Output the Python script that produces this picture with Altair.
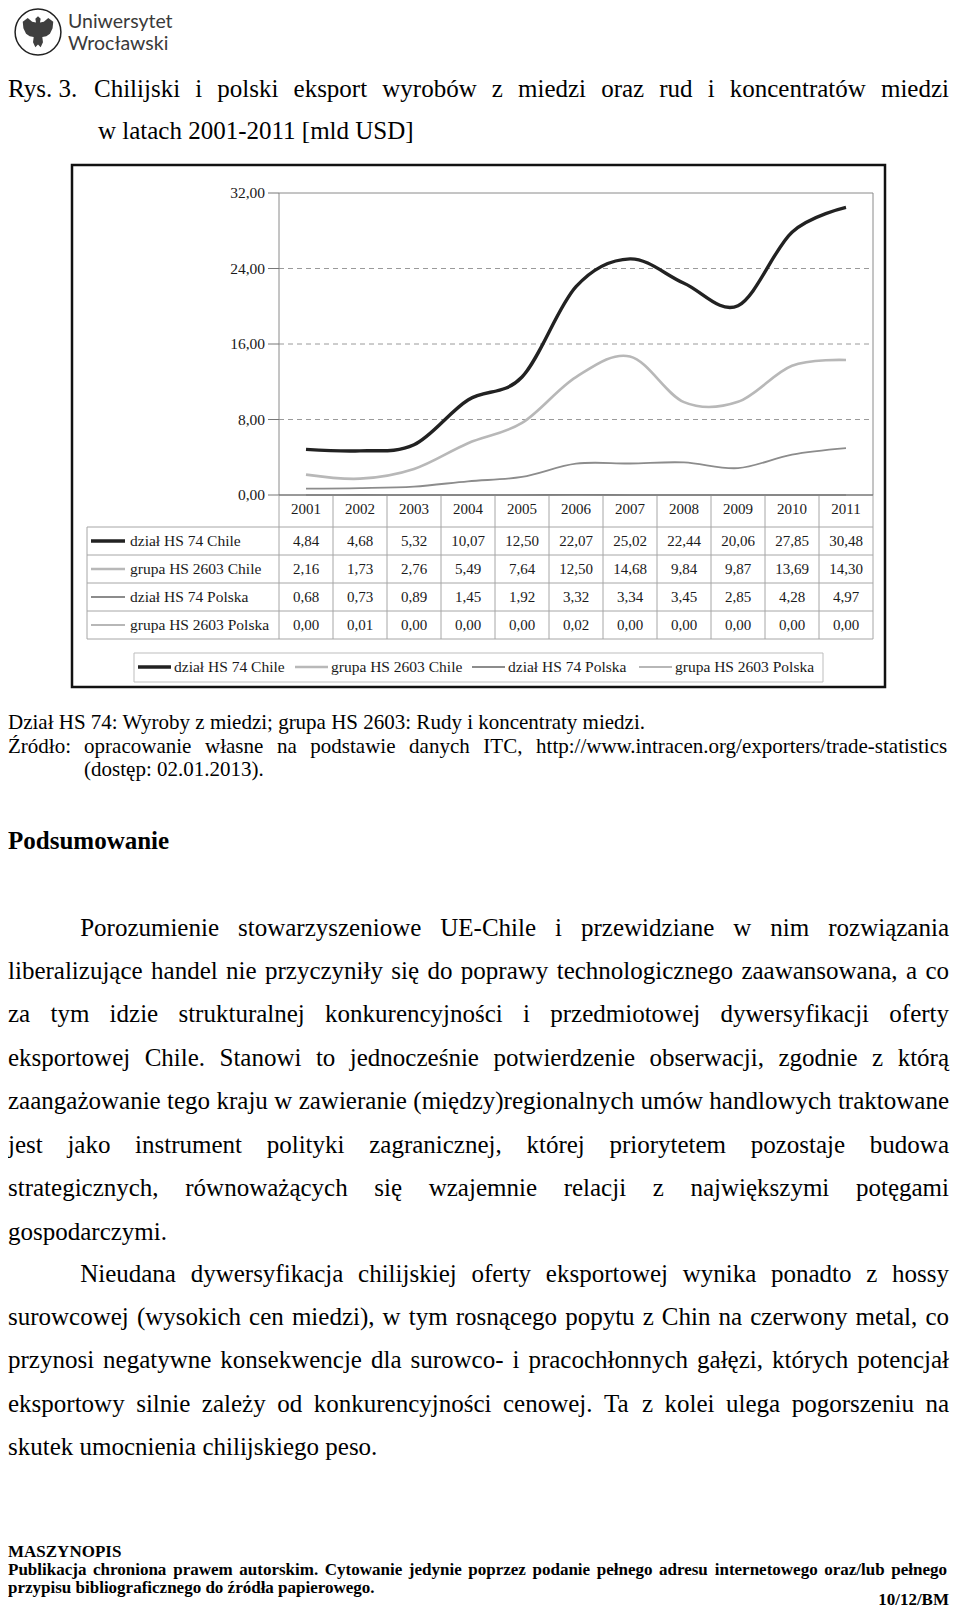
import altair as alt
import pandas as pd

# ---------------- data ----------------
years = [2001, 2002, 2003, 2004, 2005, 2006, 2007, 2008, 2009, 2010, 2011]
series_names = ["dział HS 74 Chile", "grupa HS 2603 Chile", "dział HS 74 Polska", "grupa HS 2603 Polska"]
hs74_chile = [4.84, 4.68, 5.32, 10.07, 12.50, 22.07, 25.02, 22.44, 20.06, 27.85, 30.48]
hs2603_chile = [2.16, 1.73, 2.76, 5.49, 7.64, 12.50, 14.68, 9.84, 9.87, 13.69, 14.30]
hs74_polska = [0.68, 0.73, 0.89, 1.45, 1.92, 3.32, 3.34, 3.45, 2.85, 4.28, 4.97]
hs2603_polska = [0.00, 0.01, 0.00, 0.00, 0.00, 0.02, 0.00, 0.00, 0.00, 0.00, 0.00]
y_ticks = [0, 8, 16, 24, 32]
y_tick_labels = ["0,00", "8,00", "16,00", "24,00", "32,00"]

series_values = [hs74_chile, hs2603_chile, hs74_polska, hs2603_polska]
rows = []
for name, vals in zip(series_names, series_values):
    for yr, v in zip(years, vals):
        rows.append({"series": name, "year": yr, "value": v,
                     "label": f"{v:.2f}".replace(".", ",")})
df = pd.DataFrame(rows)
df_years = pd.DataFrame({"year": years, "ylabel": [str(y) for y in years]})
df_ticks = pd.DataFrame({"v": y_ticks, "lab": y_tick_labels})
df_grid = df_ticks[(df_ticks.v > 0) & (df_ticks.v < 32)]
df_zero = df_ticks[df_ticks.v == 0]
df_bounds = pd.DataFrame({"b": [y - 0.5 for y in years] + [years[-1] + 0.5]})
df_series = pd.DataFrame({"series": series_names})
df_last = df_series.tail(1)
one = pd.DataFrame([{"a": 0}])

# layout (chart coordinates = page - 8)
legend_text_x = [166, 323, 500, 667]
df_leg = pd.DataFrame({"series": series_names, "lx": legend_text_x,
                       "kx": [x - 36 for x in legend_text_x],
                       "kx2": [x - 3 for x in legend_text_x]})

SERIF = "Liberation Serif"
TXT = "#1a1a1a"

xs = alt.Scale(domain=[2000.5, 2011.5], range=[271, 865], nice=False, zero=False)
ys = alt.Scale(domain=[0, 32], range=[487, 185], nice=False, zero=False)
rs = alt.Scale(type="point", domain=series_names, range=[533, 617], padding=0)
color_s = alt.Scale(domain=series_names, range=["#222222", "#b8b8b8", "#8c8c8c", "#707070"])
width_s = alt.Scale(domain=series_names, range=[3.4, 1.1, 3.4, 1.1])

layers = []

# outer frame
layers.append(alt.Chart(one).mark_rect(fill="white", stroke="#111", strokeWidth=2.5).encode(
    x=alt.value(64), x2=alt.value(877), y=alt.value(157), y2=alt.value(679)))

# grid lines
layers.append(alt.Chart(df_grid).mark_rule(color="#9a9a9a", strokeDash=[5, 4], strokeWidth=1).encode(
    y=alt.Y("v:Q", scale=ys, axis=None), x=alt.value(271), x2=alt.value(865)))

# lines
layers.append(alt.Chart(df).mark_line(interpolate="cardinal").encode(
    x=alt.X("year:Q", scale=xs, axis=None),
    y=alt.Y("value:Q", scale=ys, axis=None),
    color=alt.Color("series:N", scale=color_s, legend=None),
    strokeWidth=alt.StrokeWidth("series:N", scale=width_s, legend=None),
    detail="series:N"))

# plot border
layers.append(alt.Chart(one).mark_rect(fill="white", fillOpacity=0, stroke="#8a8a8a", strokeWidth=1).encode(
    x=alt.value(271), x2=alt.value(865), y=alt.value(185), y2=alt.value(487)))

# y ticks & labels
layers.append(alt.Chart(df_ticks).mark_rule(color="#777", strokeWidth=1).encode(
    y=alt.Y("v:Q", scale=ys, axis=None), x=alt.value(260), x2=alt.value(271)))
layers.append(alt.Chart(df_ticks).mark_text(font=SERIF, fontSize=15.5, color=TXT, align="right",
                                            baseline="middle").encode(
    y=alt.Y("v:Q", scale=ys, axis=None), x=alt.value(257), text="lab:N"))

# table vertical separators
layers.append(alt.Chart(df_bounds).mark_rule(color="#a6a6a6", strokeWidth=1).encode(
    x=alt.X("b:Q", scale=xs, axis=None), y=alt.value(487), y2=alt.value(631)))
# table horizontal lines
layers.append(alt.Chart(df_series).mark_rule(color="#a6a6a6", strokeWidth=1, yOffset=-14).encode(
    y=alt.Y("series:N", scale=rs, axis=None), x=alt.value(79), x2=alt.value(865)))
layers.append(alt.Chart(df_last).mark_rule(color="#a6a6a6", strokeWidth=1, yOffset=14).encode(
    y=alt.Y("series:N", scale=rs, axis=None), x=alt.value(79), x2=alt.value(865)))
layers.append(alt.Chart(one).mark_rule(color="#a6a6a6", strokeWidth=1).encode(
    x=alt.value(79), y=alt.value(519), y2=alt.value(631)))
# x axis line
layers.append(alt.Chart(df_zero).mark_rule(color="#6e6e6e", strokeWidth=1).encode(
    y=alt.Y("v:Q", scale=ys, axis=None), x=alt.value(271), x2=alt.value(865)))

# year labels
layers.append(alt.Chart(df_years).mark_text(font=SERIF, fontSize=15, color=TXT, baseline="middle").encode(
    x=alt.X("year:Q", scale=xs, axis=None), y=alt.value(501), text="ylabel:N"))
# table values
layers.append(alt.Chart(df).mark_text(font=SERIF, fontSize=15, color=TXT, baseline="middle").encode(
    x=alt.X("year:Q", scale=xs, axis=None), y=alt.Y("series:N", scale=rs, axis=None), text="label:N"))
# row headers
layers.append(alt.Chart(df_series).mark_rule().encode(
    y=alt.Y("series:N", scale=rs, axis=None), x=alt.value(83), x2=alt.value(117),
    color=alt.Color("series:N", scale=color_s, legend=None),
    strokeWidth=alt.StrokeWidth("series:N", scale=width_s, legend=None)))
layers.append(alt.Chart(df_series).mark_text(font=SERIF, fontSize=15.5, color=TXT, align="left",
                                             baseline="middle").encode(
    y=alt.Y("series:N", scale=rs, axis=None), x=alt.value(122), text="series:N"))

# legend
layers.append(alt.Chart(one).mark_rect(fill="white", stroke="#bdbdbd", strokeWidth=1).encode(
    x=alt.value(126), x2=alt.value(815), y=alt.value(645), y2=alt.value(674)))
layers.append(alt.Chart(df_leg).mark_rule().encode(
    x=alt.X("kx:Q", scale=None, axis=None), x2="kx2:Q", y=alt.value(659),
    color=alt.Color("series:N", scale=color_s, legend=None),
    strokeWidth=alt.StrokeWidth("series:N", scale=width_s, legend=None)))
layers.append(alt.Chart(df_leg).mark_text(font=SERIF, fontSize=15.5, color=TXT, align="left",
                                          baseline="middle").encode(
    x=alt.X("lx:Q", scale=None, axis=None), y=alt.value(659), text="series:N"))

# ---------------- page text ----------------
TNR = {' ': 250, '.': 250, ',': 250, ':': 278, ';': 278, '-': 333, '(': 333, ')': 333, '/': 278,
       '[': 333, ']': 333,
       'a': 444, 'b': 500, 'c': 444, 'd': 500, 'e': 444, 'f': 333, 'g': 500, 'h': 500, 'i': 278,
       'j': 278, 'k': 500, 'l': 278, 'm': 778, 'n': 500, 'o': 500, 'p': 500, 'q': 500, 'r': 333,
       's': 389, 't': 278, 'u': 500, 'v': 500, 'w': 722, 'x': 500, 'y': 500, 'z': 444,
       'A': 722, 'B': 667, 'C': 667, 'D': 722, 'E': 611, 'F': 556, 'G': 722, 'H': 722, 'I': 333,
       'J': 389, 'K': 722, 'L': 611, 'M': 889, 'N': 722, 'O': 722, 'P': 556, 'Q': 722, 'R': 667,
       'S': 556, 'T': 611, 'U': 722, 'V': 722, 'W': 944, 'X': 722, 'Y': 722, 'Z': 611,
       'ą': 444, 'ć': 444, 'ę': 444, 'ł': 278, 'ń': 500, 'ó': 500, 'ś': 389, 'ź': 444, 'ż': 444,
       'Ź': 611, 'Ż': 611, 'Ś': 556}
TNRB = {' ': 250, '.': 250, ',': 250, ':': 333, ';': 333, '-': 333, '(': 333, ')': 333, '/': 278,
        'a': 500, 'b': 556, 'c': 444, 'd': 556, 'e': 444, 'f': 333, 'g': 500, 'h': 556, 'i': 278,
        'j': 333, 'k': 556, 'l': 278, 'm': 833, 'n': 556, 'o': 500, 'p': 556, 'q': 556, 'r': 444,
        's': 389, 't': 333, 'u': 556, 'v': 500, 'w': 722, 'x': 500, 'y': 500, 'z': 444,
        'A': 722, 'B': 667, 'C': 722, 'D': 722, 'E': 667, 'F': 611, 'G': 778, 'H': 778, 'I': 389,
        'J': 500, 'K': 778, 'L': 667, 'M': 944, 'N': 722, 'O': 778, 'P': 611, 'Q': 778, 'R': 722,
        'S': 556, 'T': 667, 'U': 722, 'V': 722, 'W': 1000, 'X': 722, 'Y': 722, 'Z': 667,
        'ą': 500, 'ć': 444, 'ę': 444, 'ł': 278, 'ń': 556, 'ó': 500, 'ś': 389, 'ź': 444, 'ż': 444}


def tw(s, size, bold=False):
    tab = TNRB if bold else TNR
    return sum(tab.get(ch, 500) for ch in s) * size / 1000.0


def bx(p):
    return (p - 4) * 941.0 / 952.0


def by(p):
    return p - 8


def justify(line, left, right, y, size, bold=False, last=False):
    words = line.split()
    if last or len(words) == 1:
        return [{"x": left, "y": y, "t": line}]
    widths = [tw(w, size, bold) for w in words]
    gap = (right - left - sum(widths)) / (len(words) - 1)
    out, x = [], left
    for w, wd in zip(words, widths):
        out.append({"x": x, "y": y, "t": w})
        x += wd + gap
    return out


title_rows = []
title_rows += [{"x": bx(4), "y": by(89), "t": "Rys. 3."}]
title_rows += justify("Chilijski i polski eksport wyrobów z miedzi oraz rud i koncentratów miedzi",
                      bx(91), bx(956), by(89), 25)
title_rows += [{"x": bx(95), "y": by(131), "t": "w latach 2001-2011 [mld USD]"}]

cap_rows = []
cap_rows += [{"x": bx(4), "y": by(723), "t": "Dział HS 74: Wyroby z miedzi; grupa HS 2603: Rudy i koncentraty miedzi."}]
cap_rows += [{"x": bx(4), "y": by(747), "t": "Źródło:"}]
cap_rows += justify("opracowanie własne na podstawie danych ITC, http://www.intracen.org/exporters/trade-statistics",
                    bx(81), bx(956), by(747), 21)
cap_rows += [{"x": bx(81), "y": by(770), "t": "(dostęp: 02.01.2013)."}]

para1 = ["Porozumienie stowarzyszeniowe UE-Chile i przewidziane w nim rozwiązania",
         "liberalizujące handel nie przyczyniły się do poprawy technologicznego zaawansowana, a co",
         "za tym idzie strukturalnej konkurencyjności i przedmiotowej dywersyfikacji oferty",
         "eksportowej Chile. Stanowi to jednocześnie potwierdzenie obserwacji, zgodnie z którą",
         "zaangażowanie tego kraju w zawieranie (między)regionalnych umów handlowych traktowane",
         "jest jako instrument polityki zagranicznej, której priorytetem pozostaje budowa",
         "strategicznych, równoważących się wzajemnie relacji z największymi potęgami",
         "gospodarczymi."]
para2 = ["Nieudana dywersyfikacja chilijskiej oferty eksportowej wynika ponadto z hossy",
         "surowcowej (wysokich cen miedzi), w tym rosnącego popytu z Chin na czerwony metal, co",
         "przynosi negatywne konsekwencje dla surowco- i pracochłonnych gałęzi, których potencjał",
         "eksportowy silnie zależy od konkurencyjności cenowej. Ta z kolei ulega pogorszeniu na",
         "skutek umocnienia chilijskiego peso."]

body_rows = []
for para, y0 in [(para1, 927.5), (para2, 1273.5)]:
    for i, line in enumerate(para):
        left = bx(77) if i == 0 else bx(4)
        body_rows += justify(line, left, bx(956), by(y0 + i * 43.45), 25, last=(i == len(para) - 1))

head_rows = [{"x": bx(4), "y": by(841), "t": "Podsumowanie"}]

foot_rows = []
foot_rows += [{"x": bx(4), "y": by(1552), "t": "MASZYNOPIS"}]
foot_rows += justify("Publikacja chroniona prawem autorskim. Cytowanie jedynie poprzez podanie pełnego adresu internetowego oraz/lub pełnego",
                     bx(4), bx(956) - 2, by(1570), 17, bold=True)
foot_rows += [{"x": bx(4), "y": by(1588), "t": "przypisu bibliograficznego do źródła papierowego."}]
foot_right = [{"x": bx(956), "y": 1592, "t": "10/12/BM"}]


def text_layer(rows_, size, bold=False, align="left", font=SERIF, color="#000"):
    kw = dict(font=font, fontSize=size, color=color, align=align, baseline="middle")
    if bold:
        kw["fontWeight"] = "bold"
    return alt.Chart(pd.DataFrame(rows_)).mark_text(**kw).encode(
        x=alt.X("x:Q", scale=None, axis=None), y=alt.Y("y:Q", scale=None, axis=None), text="t:N")


layers.append(text_layer(title_rows, 25))
layers.append(text_layer(cap_rows, 21))
layers.append(text_layer(head_rows, 25, bold=True))
layers.append(text_layer(body_rows, 25))
layers.append(text_layer(foot_rows, 17, bold=True))
layers.append(text_layer(foot_right, 17, bold=True, align="right"))

# logo
logo_text = [{"x": 60, "y": 14, "t": "Uniwersytet"}, {"x": 60, "y": 36, "t": "Wrocławski"}]
layers.append(text_layer(logo_text, 19.5, font="Lato", color="#3a3a3a"))
logo_pos = pd.DataFrame([{"x": 30, "y": 24}])
layers.append(alt.Chart(logo_pos).mark_point(shape="circle", size=2100, filled=False, stroke="#222",
                                             strokeWidth=1.5, opacity=1).encode(
    x=alt.X("x:Q", scale=None, axis=None), y=alt.Y("y:Q", scale=None, axis=None)))
eagle = ("M0,-0.95 L0.16,-0.8 L0.12,-0.58 L0.35,-0.62 L0.62,-0.85 L0.92,-0.62 L0.88,-0.22 "
         "L0.72,0.1 L0.5,0.26 L0.26,0.3 L0.3,0.62 L0.16,0.92 L0,0.76 L-0.16,0.92 L-0.3,0.62 "
         "L-0.26,0.3 L-0.5,0.26 L-0.72,0.1 L-0.88,-0.22 L-0.92,-0.62 L-0.62,-0.85 L-0.35,-0.62 "
         "L-0.12,-0.58 L-0.16,-0.8 Z")
layers.append(alt.Chart(logo_pos).mark_point(shape=eagle, size=1100, filled=True, color="#2a2a2a",
                                             opacity=0.9).encode(
    x=alt.X("x:Q", scale=None, axis=None), y=alt.Y("y:Q", scale=None, axis=None)))

chart = alt.layer(*layers).resolve_scale(x="independent", y="independent").properties(
    width=944, height=1601, autosize=alt.AutoSizeParams(type="none"), padding=0,
    background="white"
).configure_view(strokeWidth=0)

chart.save("out.html", embed_options={"renderer": "svg", "actions": False})
